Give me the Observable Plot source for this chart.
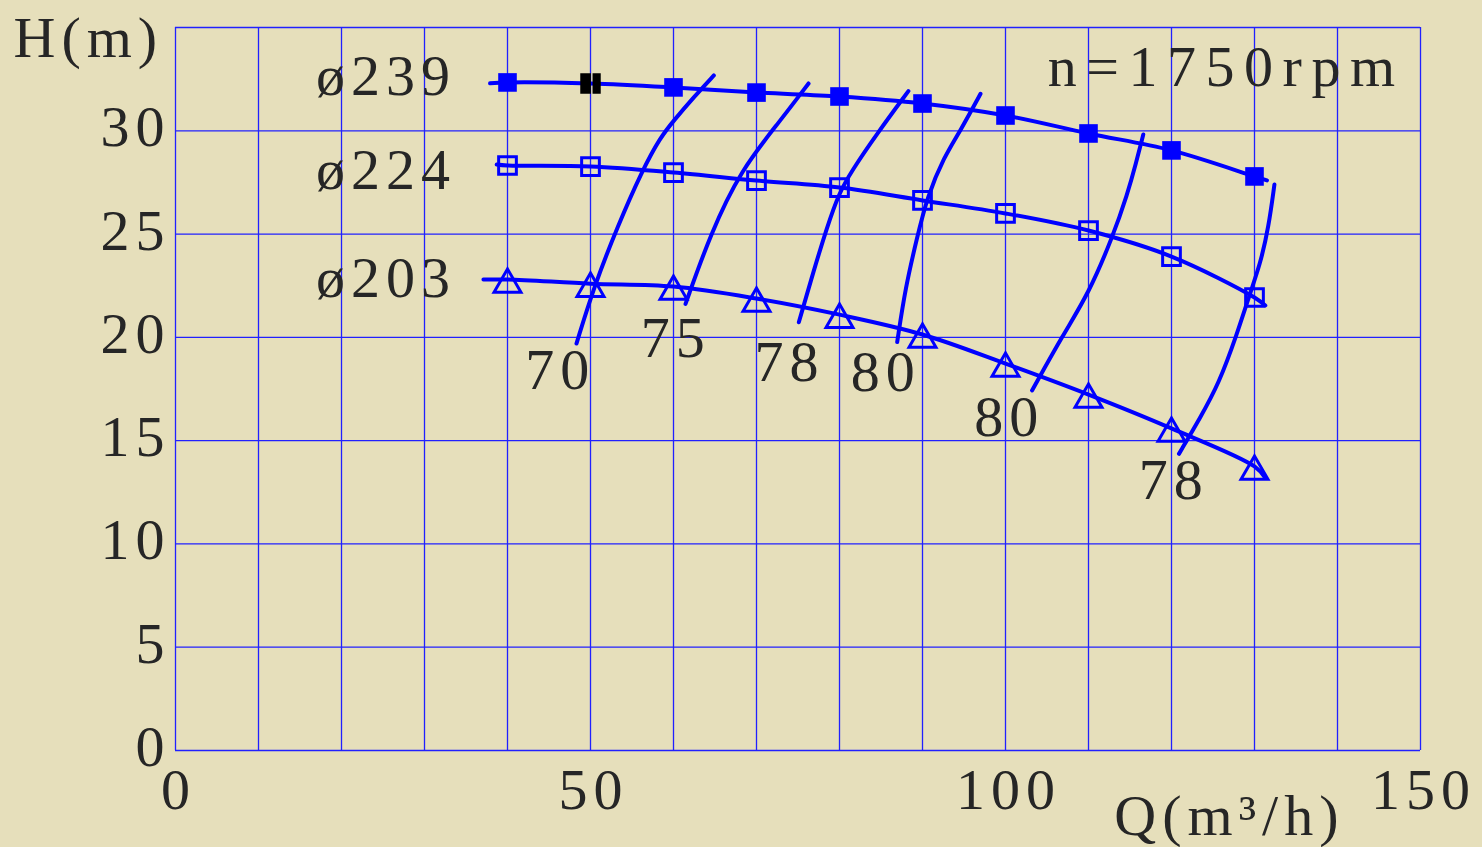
<!DOCTYPE html>
<html><head><meta charset="utf-8">
<script src="https://cdn.jsdelivr.net/npm/d3@7"></script>
<script src="https://cdn.jsdelivr.net/npm/@observablehq/plot@0.6"></script>
<style>
html,body{margin:0;padding:0;background:#e6dfbb;}
#chart svg text{letter-spacing:6px;}
#chart svg g.rpm text{letter-spacing:9.5px;}
</style></head><body><div id="chart"></div>
<script>
// Flow points (m3/h) where the marker points sit
const Q = [40, 50, 60, 70, 80, 90, 100, 110, 120, 130];
// Head values (m) for the three impeller diameters
const H239 = [32.34, 32.29, 32.10, 31.85, 31.66, 31.32, 30.74, 29.87, 29.05, 27.79];
const H224 = [28.32, 28.27, 27.98, 27.59, 27.25, 26.63, 26.00, 25.17, 23.91, 21.93];
const H203 = [22.80, 22.60, 22.46, 21.88, 21.10, 20.14, 18.73, 17.23, 15.59, 13.75];
// curve ends [Qstart, Hstart, Qend, Hend]
const ends239 = [37.9, 32.30, 131.5, 27.60];
const ends224 = [38.7, 28.37, 131.3, 21.54];
const ends203 = [37.1, 22.80, 131.3, 13.20];
const highlightQ = 50;

// Iso-efficiency curves
const eff70Q = [48.31, 50.40, 53.22, 56.23, 58.43, 60.04, 62.45, 64.86];
const eff70H = [19.70, 22.43, 25.33, 28.08, 29.69, 30.50, 31.63, 32.68];
const eff75Q = [61.45, 64.46, 68.07, 72.89, 76.27];
const eff75H = [21.62, 25.01, 28.08, 30.50, 32.29];
const eff78aQ = [75.1, 76.9, 78.5, 79.9, 81.5, 84.5, 88.3];
const eff78aH = [20.73, 23.24, 25.33, 26.95, 28.08, 29.85, 31.92];
const eff80aQ = [86.95, 87.95, 89.36, 90.56, 92.57, 94.58, 96.99];
const eff80aH = [19.77, 22.43, 24.85, 26.79, 28.72, 30.01, 31.79];
const eff80bQ = [103.2, 107.0, 110.0, 112.9, 114.7, 115.7, 116.6];
const eff80bH = [17.43, 20.17, 22.11, 24.85, 26.95, 28.40, 29.82];
const eff78bQ = [120.9, 123.5, 125.7, 127.9, 129.3, 130.7, 131.7, 132.4];
const eff78bH = [14.36, 16.14, 17.75, 20.17, 21.94, 23.56, 25.33, 27.40];

// Labels
const effLabels = ["70", "75", "78", "80", "80", "78"];
const effLabelQ = [46.0, 59.9, 73.6, 85.2, 100.1, 119.9];
const effLabelH = [18.4, 19.95, 18.78, 18.3, 16.12, 13.07];
const diaLabels = ["ø239", "ø224", "ø203"];
const diaLabelQ = [33.8, 33.8, 33.8];
const diaLabelH = [32.63, 28.08, 22.85];

const xTicks = [0, 50, 100, 150];
const yTicks = [0, 5, 10, 15, 20, 25, 30];
const xGrid = [0, 10, 20, 30, 40, 50, 60, 70, 80, 90, 100, 110, 120, 130, 140, 150];
const yGrid = [0, 5, 10, 15, 20, 25, 30, 35];

const blue = "#0000ff";
const ink = "#262626";
const font = "Liberation Serif";
const fs = 58;

function series(name, Hs, ends) {
  const pts = [{d: name, Q: ends[0], H: ends[1]}];
  Q.forEach((q, i) => pts.push({d: name, Q: q, H: Hs[i]}));
  pts.push({d: name, Q: ends[2], H: ends[3]});
  return pts;
}
const headLines = [...series("239", H239, ends239), ...series("224", H224, ends224), ...series("203", H203, ends203)];

function eff(id, qs, hs) { return qs.map((q, i) => ({id, Q: q, H: hs[i]})); }
const effLines = [
  ...eff("70", eff70Q, eff70H), ...eff("75", eff75Q, eff75H), ...eff("78a", eff78aQ, eff78aH),
  ...eff("80a", eff80aQ, eff80aH), ...eff("80b", eff80bQ, eff80bH), ...eff("78b", eff78bQ, eff78bH)
];

const pts239 = Q.map((q, i) => ({Q: q, H: H239[i]}));
const pts224 = Q.map((q, i) => ({Q: q, H: H224[i]}));
const pts203 = Q.map((q, i) => ({Q: q, H: H203[i]}));

const splitSquare = {
  draw(ctx, size) {
    const s = Math.sqrt(size) * 1.1, h = s / 2;
    ctx.rect(-h, -h, s * 0.52, s);
    ctx.rect(-h + s * 0.60, -h, s * 0.40, s);
  }
};

const effLabelData = effLabels.map((t, i) => ({t, Q: effLabelQ[i], H: effLabelH[i]}));
const diaLabelData = diaLabels.map((t, i) => ({t, Q: diaLabelQ[i], H: diaLabelH[i]}));

const chart = Plot.plot({
  width: 1482,
  height: 847,
  marginLeft: 175,
  marginRight: 62,
  marginTop: 27,
  marginBottom: 97,
  style: {background: "#e6dfbb", fontFamily: font, overflow: "visible"},
  x: {domain: [0, 150]},
  y: {domain: [0, 35]},
  marks: [
    Plot.ruleX(xGrid, {stroke: "#2020ff", strokeWidth: 1.3}),
    Plot.ruleY(yGrid, {stroke: "#2020ff", strokeWidth: 1.3}),
    Plot.axisX({ticks: xTicks, tickSize: 0, tickPadding: 17, dx: 3, label: null, fontSize: fs, fill: ink, fontFamily: font}),
    Plot.axisY({ticks: yTicks, tickSize: 0, tickPadding: 5, dy: -3, label: null, fontSize: fs, fill: ink, fontFamily: font}),
    Plot.line(effLines, {x: "Q", y: "H", z: "id", stroke: blue, strokeWidth: 4, curve: "basis"}),
    Plot.line(headLines, {x: "Q", y: "H", z: "d", stroke: blue, strokeWidth: 4, curve: "catmull-rom"}),
    Plot.dot(pts239.filter(d => d.Q !== highlightQ), {x: "Q", y: "H", symbol: "square", r: 10.5, fill: blue}),
    Plot.dot(pts239.filter(d => d.Q === highlightQ), {x: "Q", y: "H", symbol: splitSquare, r: 10.5, fill: "#000"}),
    Plot.dot(pts224, {x: "Q", y: "H", symbol: "square", r: 10, fill: "none", stroke: blue, strokeWidth: 3}),
    Plot.dot(pts203, {x: "Q", y: "H", symbol: "triangle", r: 10, dy: 5, fill: "none", stroke: blue, strokeWidth: 3}),
    Plot.text(effLabelData, {x: "Q", y: "H", text: "t", fontSize: fs, fill: ink, dx: 3, fontFamily: font}),
    Plot.text(diaLabelData, {x: "Q", y: "H", text: "t", fontSize: fs, fill: ink, textAnchor: "end", fontFamily: font}),
    Plot.text(["n=1750rpm"], {frameAnchor: "top-right", textAnchor: "end", lineAnchor: "middle", dx: -16, dy: 40, fontSize: fs, fill: ink, fontFamily: font, className: "rpm"}),
    Plot.text(["H(m)"], {frameAnchor: "top-left", textAnchor: "start", lineAnchor: "middle", dx: -162, dy: 11, fontSize: fs, fill: ink, fontFamily: font}),
    Plot.text(["Q(m³/h)"], {frameAnchor: "bottom-right", textAnchor: "end", lineAnchor: "middle", dx: -76, dy: 66, fontSize: fs, fill: ink, fontFamily: font})
  ]
});
document.getElementById("chart").appendChild(chart);
</script>
</body></html>
